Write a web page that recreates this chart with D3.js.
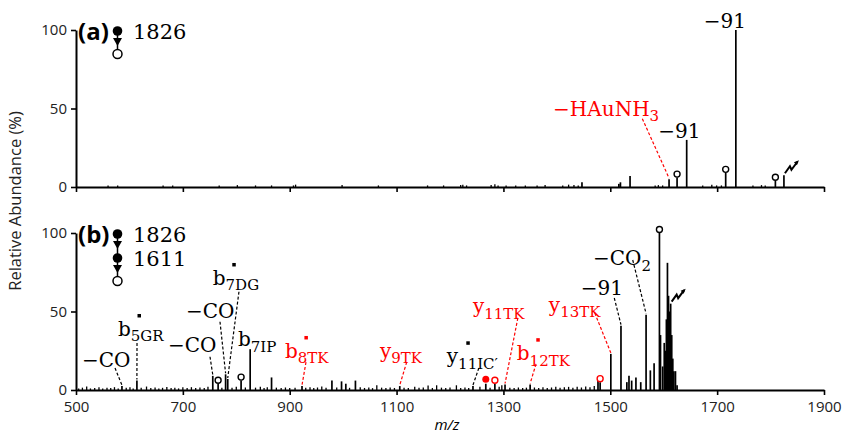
<!DOCTYPE html>
<html>
<head>
<meta charset="utf-8">
<script src="https://cdn.jsdelivr.net/npm/d3@7/dist/d3.min.js"></script>
<style>
  body { margin: 0; background: #fff; }
  .tick text { font-family: "Open Sans", sans-serif; font-size: 15px; fill: #222; }
  .lab { font-family: "DejaVu Serif", serif; font-size: 20px; }
</style>
</head>
<body>
<div id="spectrum"></div>
<script>
// ---- data: [m/z, relative abundance %] ----
var peaksA = [[1447,3],[1516,2],[1519,3],[1537,7],[1610,5],[1625,6],[1643,30],[1716,9],[1735,100],[1809,4],[1825,7.5]];
var noiseA = [[560,1],[578,1],[663,1],[681,1],[768,1],[802,1.2],[836,1],[866,1],[907,1],[911,1.5],[998,1.2],[1066,1],
  [1158,1],[1188,1],[1220,1.2],[1224,1.5],[1231,1],[1277,1.2],[1284,1.8],[1290,1],[1305,1],[1323,1],[1341,1],[1363,1],
  [1378,1.2],[1411,1],[1422,1.5],[1432,1.2],[1440,1],[1584,1],[1590,1.2],[1598,1],[1673,1],[1690,1.5],[1699,1],[1708,1],
  [1767,1],[1783,1.2],[1790,1]];

var peaksB = [[586,2.5],[614,6],[756,9],[766,4],[780,10],[784,7],[809,6],[826,26],[866,8],[923,2.5],[979,6],[997,5.5],
  [1005,4],[1023,6],[1106,2.5],[1243,2.5],[1267,4],[1284,4],[1303,3.5],[1350,3.5],[1477,6],[1481,5],[1501,23],[1520,41],
  [1531,5],[1535,9],[1540,6],[1548,8],[1557,5],[1567,48],[1575,12.5],[1582,17],[1592,100],[1594,35],[1598,15],[1601,30],
  [1603,25],[1605,45],[1607,81],[1609,60],[1611,50],[1613,55],[1615,35],[1617,20],[1619,12],[1622,12],[1625,3]];
var noiseB = [[505,1],[512,1.5],[520,2.2],[527,1],[535,1.3],[543,1.8],[550,1],[558,1.5],[565,1.2],[572,1.8],[579,1],
  [594,1.4],[601,1.8],[607,1],[622,1.5],[632,2.2],[640,1.2],[648,1.6],[655,1],[662,1.4],[670,1.9],[678,1.2],[685,1.5],
  [692,1],[700,1.7],[708,1.2],[716,1.8],[724,1.3],[732,1.6],[740,1.2],[747,2],[773,1.5],[792,1.4],[800,2],[817,1.6],
  [836,1.5],[845,2],[852,1.2],[858,1.8],[875,1.5],[884,1.2],[892,1.6],[900,1.2],[910,1.5],[930,1.4],[938,1.8],[945,1.3],
  [952,1.6],[960,2.2],[968,1.4],[988,1.6],[1012,1.4],[1032,1.8],[1040,1.3],[1048,1.6],[1055,1.2],[1063,3],[1072,1.5],
  [1080,1.2],[1088,1.6],[1096,1.3],[1114,1.5],[1122,1.2],[1134,2],[1142,1.4],[1150,1.6],[1159,2.8],[1167,1.3],[1175,3],
  [1184,1.5],[1192,1.2],[1200,1.6],[1212,3],[1220,1.3],[1228,1.6],[1235,1.2],[1256,2],[1275,1.5],[1292,2],[1297,3],
  [1312,1.5],[1320,1.3],[1328,1.6],[1336,1.2],[1343,1.5],[1358,1.6],[1366,1.3],[1374,1.8],[1382,1.3],[1390,1.6],
  [1398,2],[1406,1.4],[1414,1.8],[1422,2],[1430,1.5],[1438,2],[1446,1.6],[1454,2.2],[1462,1.8],[1470,2.5]];

var xTicks = [500, 700, 900, 1100, 1300, 1500, 1700, 1900];
var yTicks = [0, 50, 100];

// peak markers
var openA = [1625, 1716, 1809];
var openB = [766, 809, 1592];
var redOpenB = [1284, 1481];
var redDotB = [1267];
var boltA = 1825, boltB = 1613;

// annotations: peak, main text, subscript, colour, radical dot
var annotA = [
  {peak: 1735, main: "\u221291", sub: "", color: "#000"},
  {peak: 1643, main: "\u221291", sub: "", color: "#000"},
  {peak: 1610, main: "\u2212HAuNH", sub: "3", color: "red"}
];
// label place [m/z, %] and dashed leader start [m/z, %] (null = no leader)
var placeA = [[1675, 101, null], [1590, 31, null], [1393, 45.5, [1560, 43.5]]];

var annotB = [
  {peak: 586,  main: "\u2212CO", sub: "",      color: "#000", rad: false},
  {peak: 614,  main: "b",        sub: "5GR",   color: "#000", rad: true},
  {peak: 756,  main: "\u2212CO", sub: "",      color: "#000", rad: false},
  {peak: 780,  main: "\u2212CO", sub: "",      color: "#000", rad: false},
  {peak: 784,  main: "b",        sub: "7DG",   color: "#000", rad: true},
  {peak: 826,  main: "b",        sub: "7IP",   color: "#000", rad: false},
  {peak: 923,  main: "b",        sub: "8TK",   color: "red",  rad: true},
  {peak: 1106, main: "y",        sub: "9TK",   color: "red",  rad: false},
  {peak: 1243, main: "y",        sub: "11IC\u2032", color: "#000", rad: true},
  {peak: 1303, main: "y",        sub: "11TK",  color: "red",  rad: false},
  {peak: 1350, main: "b",        sub: "12TK",  color: "red",  rad: true},
  {peak: 1501, main: "y",        sub: "13TK",  color: "red",  rad: false},
  {peak: 1520, main: "\u221291", sub: "",      color: "#000", rad: false},
  {peak: 1567, main: "\u2212CO", sub: "2",     color: "#000", rad: false}
];
var placeB = [
  [511, 14.8, [573, 14]], [578.6, 34.4, [614.2, 29.9]], [672, 24.4, [750.8, 21.2]], [706, 45.9, [769.5, 43.5]],
  [756, 66.9, [805, 62.6]], [803, 28, null], [891, 20.4, [930.5, 17.8]], [1069, 20.4, [1119, 17.8]],
  [1194, 17, [1254, 14]], [1243, 49, [1327, 45.9]], [1325, 19, [1361, 16.6]], [1385, 50, [1471, 49]],
  [1444.6, 60.5, [1507.5, 58.6]], [1467.6, 79.6, [1542, 82.8]]
];

var W = 843, H = 433;
var svg = d3.select("#spectrum")
  .append("svg")
    .attr("width", W)
    .attr("height", H);

var x = d3.scaleLinear().domain([500, 1900]).range([76, 824]);
var yA = d3.scaleLinear().domain([0, 100]).range([187, 30]);
var yB = d3.scaleLinear().domain([0, 100]).range([390, 233]);

function lookup(list, mz) {
  for (var i = 0; i < list.length; i++) if (list[i][0] === mz) return list[i][1];
  return 0;
}

function drawPanel(y, peaks, noise, showLabels) {
  var g = svg.append("g");

  // noise + peaks as sticks
  g.selectAll(".noise").data(noise).enter().append("line")
    .attr("x1", function(d) { return x(d[0]); })
    .attr("x2", function(d) { return x(d[0]); })
    .attr("y1", y(0))
    .attr("y2", function(d) { return y(d[1]); })
    .attr("stroke", "#000").attr("stroke-width", 1.3);

  g.selectAll(".peak").data(peaks).enter().append("line")
    .attr("x1", function(d) { return x(d[0]); })
    .attr("x2", function(d) { return x(d[0]); })
    .attr("y1", y(0))
    .attr("y2", function(d) { return y(d[1]); })
    .attr("stroke", "#000").attr("stroke-width", 1.7);

  // axes
  var xAxis = g.append("g")
    .attr("transform", "translate(0," + y(0) + ")")
    .call(d3.axisBottom(x).tickValues(xTicks).tickSize(5).tickSizeOuter(0)
      .tickFormat(showLabels ? d3.format("d") : ""));
  xAxis.select(".domain").attr("stroke-width", 2);
  xAxis.selectAll(".tick line").attr("stroke-width", 1.6);
  xAxis.selectAll(".tick text").attr("dy", "0.9em");

  var yAxis = g.append("g")
    .attr("transform", "translate(76,0)")
    .call(d3.axisLeft(y).tickValues(yTicks).tickSize(5).tickSizeOuter(0));
  yAxis.select(".domain").attr("stroke-width", 2);
  yAxis.selectAll(".tick line").attr("stroke-width", 1.6);
  yAxis.selectAll(".tick text").attr("x", -9);

  return g;
}

function openCircles(g, y, list, peaks, color) {
  g.selectAll(null).data(list).enter().append("circle")
    .attr("cx", function(d) { return x(d); })
    .attr("cy", function(d) { return y(lookup(peaks, d)) - 3.5; })
    .attr("r", 3)
    .attr("fill", "#fff")
    .attr("stroke", color).attr("stroke-width", 1.4);
}

function bolt(g, y, mz, peaks) {
  var px = x(mz) + 1, py = y(lookup(peaks, mz)) - 2;
  g.append("path")
    .attr("d", "M" + px + "," + py + " l5,-7 l1.5,3.5 l6,-8")
    .attr("fill", "none").attr("stroke", "#000").attr("stroke-width", 2)
    .attr("stroke-linejoin", "miter");
  g.append("path")
    .attr("d", "M" + (px + 14) + "," + (py - 13) + " l-5,2 l3,3 z")
    .attr("fill", "#000");
}

function labels(g, y, annot, place, peaks) {
  annot.forEach(function(a, i) {
    var p = place[i];
    var t = g.append("text").attr("class", "lab")
      .attr("x", x(p[0])).attr("y", y(p[1]))
      .attr("fill", a.color);
    t.append("tspan").text(a.main);
    if (a.sub) {
      t.append("tspan").attr("dy", 5.5).style("font-size", "15px").text(a.sub);
    }
    if (a.rad) {
      g.append("rect")
        .attr("x", x(p[0]) + 19.5).attr("y", y(p[1]) - 22)
        .attr("width", 3.5).attr("height", 3.5)
        .attr("fill", a.color);
    }
    if (p[2]) {
      g.append("line")
        .attr("x1", x(p[2][0])).attr("y1", y(p[2][1]))
        .attr("x2", x(a.peak)).attr("y2", y(lookup(peaks, a.peak)) - 1)
        .attr("stroke", a.color).attr("stroke-width", 1.2)
        .attr("stroke-dasharray", "3,2");
    }
  });
}

// scheme glyphs: filled -> open chain
function scheme(yTop, steps, masses) {
  var cx = 117.5, gap = 12;
  var g = svg.append("g");
  var yy = yTop;
  for (var i = 0; i < steps; i++) {
    g.append("line").attr("x1", cx).attr("x2", cx).attr("y1", yy).attr("y2", yy + 2 * gap)
      .attr("stroke", "#000").attr("stroke-width", 1.5);
    g.append("circle").attr("cx", cx).attr("cy", yy).attr("r", 4.8).attr("fill", "#000");
    g.append("path")
      .attr("d", "M" + (cx - 4.5) + "," + (yy + gap - 5) + " h9 l-4.5,8 z")
      .attr("fill", "#000");
    g.append("text").attr("class", "lab").attr("x", 133).attr("y", yy + 8)
      .style("font-size", "21px").text(masses[i]);
    yy += 2 * gap;
  }
  g.append("circle").attr("cx", cx).attr("cy", yy - 1).attr("r", 4.5)
    .attr("fill", "#fff").attr("stroke", "#000").attr("stroke-width", 1.5);
}

// ---- panel (a) ----
var gA = drawPanel(yA, peaksA, noiseA, false);
openCircles(gA, yA, openA, peaksA, "#000");
bolt(gA, yA, boltA, peaksA);
labels(gA, yA, annotA, placeA, peaksA);
scheme(31, 1, ["1826"]);
svg.append("text").attr("x", 78).attr("y", 40)
  .style("font-family", "Open Sans, sans-serif").style("font-weight", "bold").style("font-size", "24px")
  .text("(a)");

// ---- panel (b) ----
var gB = drawPanel(yB, peaksB, noiseB, true);
openCircles(gB, yB, openB, peaksB, "#000");
openCircles(gB, yB, redOpenB, peaksB, "red");
gB.selectAll(null).data(redDotB).enter().append("circle")
  .attr("cx", function(d) { return x(d); })
  .attr("cy", function(d) { return yB(lookup(peaksB, d)) - 4.5; })
  .attr("r", 3.5).attr("fill", "red");
bolt(gB, yB, boltB, peaksB);
labels(gB, yB, annotB, placeB, peaksB);
scheme(234, 2, ["1826", "1611"]);
svg.append("text").attr("x", 78).attr("y", 243)
  .style("font-family", "Open Sans, sans-serif").style("font-weight", "bold").style("font-size", "24px")
  .text("(b)");

// axis titles
svg.append("text")
  .attr("transform", "translate(21,201) rotate(-90)")
  .attr("text-anchor", "middle")
  .style("font-family", "Open Sans, sans-serif").style("font-size", "16.5px").attr("fill", "#222")
  .text("Relative Abundance (%)");

svg.append("text")
  .attr("x", 447).attr("y", 430)
  .attr("text-anchor", "middle")
  .style("font-family", "Open Sans, sans-serif").style("font-size", "15px").style("font-style", "italic")
  .text("m/z");
</script>
</body>
</html>
